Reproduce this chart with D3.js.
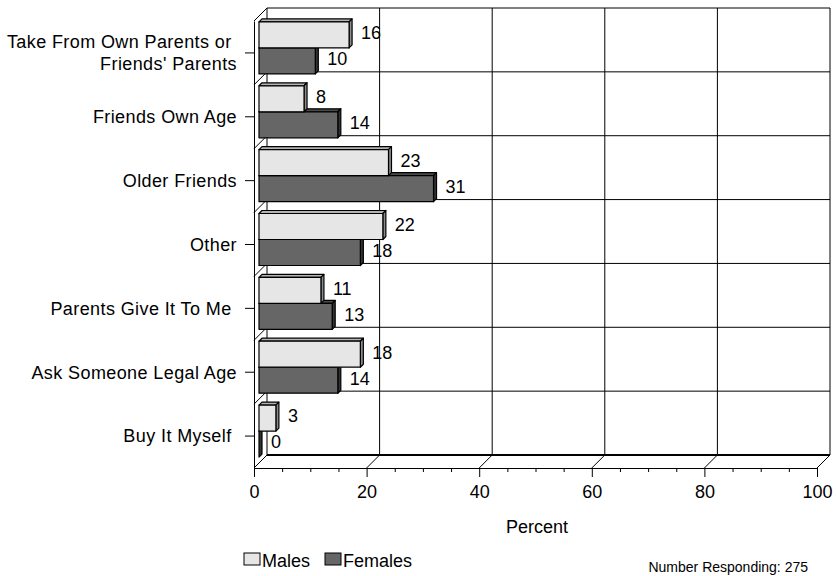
<!DOCTYPE html>
<html>
<head>
<meta charset="utf-8">
<script src="https://cdn.jsdelivr.net/npm/d3@7"></script>
<style>
  body { margin: 0; background: #fff; }
  svg { font-family: Arial, "Liberation Sans", sans-serif; }
</style>
</head>
<body>
<svg id="chart" width="836" height="576"></svg>
<script>
// data
const categories = [
    ["Take From Own Parents or\u00a0", "Friends' Parents"],
    ["Friends Own Age"],
    ["Older Friends"],
    ["Other"],
    ["Parents Give It To Me\u00a0"],
    ["Ask Someone Legal Age"],
    ["Buy It Myself\u00a0"]
];
const series = ["Males", "Females"];
const males = [16, 8, 23, 22, 11, 18, 3];
const females = [10, 14, 31, 18, 13, 14, 0];
const xTicks = [0, 20, 40, 60, 80, 100];
const footnote = "Number Responding: 275";

const svg = d3.select("#chart");
const fontSize = 18;

// 3d box: front plane and back wall are offset by depth
const depth = 13;
const front = { left: 254, right: 817, bottom: 468 };
const backTop = 8;
const barDepth = 5;   // where the bars' front face sits inside the box
const barThick = 3;   // how deep the bars are

const x = d3.scaleLinear().domain([0, 100]).range([front.left, front.right]);
const ids = categories.map((c, i) => i);
// band scale on the back wall
const yBack = d3.scaleBand().domain(ids).range([backTop, front.bottom - depth]);
const ySeries = d3.scaleBand().domain(series).range([0, yBack.bandwidth()]).paddingOuter(0.228);

const grid = svg.append("g").attr("fill", "none").attr("stroke", "#000");

// back wall vertical grid lines
xTicks.forEach(v => {
    grid.append("line")
        .attr("x1", x(v) + depth).attr("x2", x(v) + depth)
        .attr("y1", backTop).attr("y2", front.bottom - depth);
    // floor diagonals
    grid.append("line")
        .attr("x1", x(v)).attr("y1", front.bottom)
        .attr("x2", x(v) + depth).attr("y2", front.bottom - depth);
});

// back wall horizontal lines + left wall diagonals
const bounds = ids.map(i => yBack(i)).concat([yBack(ids[ids.length - 1]) + yBack.bandwidth()]);
bounds.forEach(b => {
    grid.append("line")
        .attr("x1", x(0) + depth).attr("x2", x(100) + depth)
        .attr("y1", b).attr("y2", b);
    grid.append("line")
        .attr("x1", x(0)).attr("y1", b + depth)
        .attr("x2", x(0) + depth).attr("y2", b);
});

// thicker back floor edge
grid.append("line")
    .attr("x1", x(0) + depth).attr("x2", x(100) + depth)
    .attr("y1", front.bottom - depth).attr("y2", front.bottom - depth)
    .attr("stroke-width", 2);

// bars
const colors = {
    Males: { front: "#e6e6e6", top: "#b4b4b4", side: "#8c8c8c" },
    Females: { front: "#666666", top: "#4a4a4a", side: "#333333" }
};

const bars = svg.append("g").attr("stroke", "#000").attr("stroke-width", 1.2).attr("stroke-linejoin", "round");

const drawBar = (i, name, value) => {
    const x0 = x(0) + barDepth;
    const x1 = x(value) + barDepth;
    const y0 = yBack(i) + (depth - barDepth) + ySeries(name);
    const h = ySeries.bandwidth();
    const d = barThick;
    const c = colors[name];
    bars.append("polygon")
        .attr("points", [[x0, y0], [x0 + d, y0 - d], [x1 + d, y0 - d], [x1, y0]].join(" "))
        .attr("fill", c.top);
    bars.append("polygon")
        .attr("points", [[x1, y0], [x1 + d, y0 - d], [x1 + d, y0 + h - d], [x1, y0 + h]].join(" "))
        .attr("fill", c.side);
    bars.append("rect")
        .attr("x", x0).attr("y", y0)
        .attr("width", x1 - x0).attr("height", h)
        .attr("fill", c.front);
    svg.append("text")
        .attr("x", x1 + 12)
        .attr("y", y0 + h / 2 - 2)
        .attr("dy", "0.35em")
        .attr("font-size", fontSize)
        .text(value);
};

ids.forEach(i => {
    drawBar(i, "Females", females[i]);
    drawBar(i, "Males", males[i]);
});

// category axis on the front plane
const yFront = d3.scaleBand().domain(ids).range([backTop + depth, front.bottom]);
const yAxis = svg.append("g")
    .attr("transform", `translate(${front.left},0)`)
    .call(d3.axisLeft(yFront).tickSize(9).tickSizeOuter(0).tickFormat(""));
yAxis.select(".domain").attr("stroke", "#000");
yAxis.selectAll(".tick line").attr("stroke", "#000");

const catLabels = svg.append("g")
    .attr("font-size", fontSize)
    .attr("letter-spacing", 0.4)
    .attr("text-anchor", "end")
    .style("white-space", "pre");
ids.forEach(i => {
    const lines = categories[i];
    const cy = yFront(i) + yFront.bandwidth() / 2;
    lines.forEach((t, k) => {
        catLabels.append("text")
            .attr("x", 237)
            .attr("y", cy + (k - (lines.length - 1) / 2) * 22)
            .attr("dy", "0.35em")
            .text(t);
    });
});

// value axis on the front floor edge
const minor = d3.range(0, 101, 5).filter(v => v % 20 !== 0);
svg.append("g")
    .attr("transform", `translate(0,${front.bottom})`)
    .call(d3.axisBottom(x).tickValues(minor).tickSize(4).tickFormat(""))
    .call(g => g.select(".domain").remove())
    .call(g => g.selectAll("line").attr("stroke", "#000"));

const xAxis = svg.append("g")
    .attr("transform", `translate(0,${front.bottom})`)
    .call(d3.axisBottom(x).tickValues(xTicks).tickSize(9).tickSizeOuter(0).tickPadding(8));
xAxis.select(".domain").attr("stroke", "#000");
xAxis.selectAll(".tick line").attr("stroke", "#000");
xAxis.selectAll("text")
    .attr("font-size", fontSize)
    .attr("font-family", "Arial, 'Liberation Sans', sans-serif")
    .attr("fill", "#000");

svg.append("text")
    .attr("x", 537).attr("y", 533)
    .attr("text-anchor", "middle")
    .attr("font-size", fontSize)
    .text("Percent");

// legend
const legend = svg.append("g").attr("font-size", fontSize);
const legendX = [244, 325];
series.forEach((s, k) => {
    legend.append("rect")
        .attr("x", legendX[k]).attr("y", 553)
        .attr("width", 16).attr("height", 12)
        .attr("fill", colors[s].front)
        .attr("stroke", "#000");
    legend.append("text")
        .attr("x", legendX[k] + 18).attr("y", 567)
        .text(s);
});

svg.append("text")
    .attr("x", 808).attr("y", 572)
    .attr("text-anchor", "end")
    .attr("font-size", 14)
    .text(footnote);
</script>
</body>
</html>
